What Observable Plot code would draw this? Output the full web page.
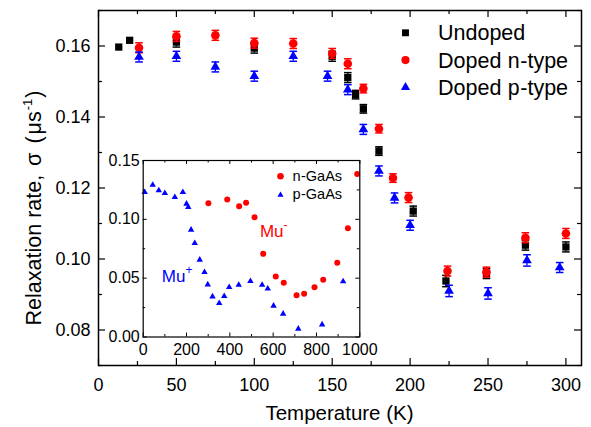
<!DOCTYPE html>
<html><head><meta charset="utf-8">
<script src="https://cdn.jsdelivr.net/npm/d3@7"></script>
<script src="https://cdn.jsdelivr.net/npm/@observablehq/plot@0.6"></script>
<style>
body{margin:0;background:#fff;}
#wrap{position:relative;width:591px;height:427px;overflow:hidden;background:#fff;}
#wrap svg{position:absolute;overflow:visible;}
</style></head><body><div id="wrap"></div>
<script>
// ---------- main chart data ----------
const undopedT     = [13, 20, 50, 100, 150, 160, 165, 170, 180, 202, 223, 249, 274, 300];
const undopedSigma = [0.1597, 0.1616, 0.1611, 0.1594, 0.1571, 0.1511, 0.1463, 0.1423, 0.1304, 0.1135, 0.0938, 0.0959, 0.1039, 0.1034];
const undopedErr   = [0, 0, 0.0014, 0.0014, 0.0014, 0.0014, 0.0012, 0.0012, 0.0012, 0.0014, 0.0016, 0.0014, 0.0014, 0.0014];

const nTypeT     = [26, 50, 75, 100, 125, 150, 160, 170, 180, 189, 199, 224, 249, 274, 300];
const nTypeSigma = [0.1595, 0.1627, 0.1630, 0.1608, 0.1607, 0.1579, 0.1550, 0.1480, 0.1367, 0.1228, 0.1173, 0.0966, 0.0963, 0.1060, 0.1072];
const nTypeErr   = [0.0014, 0.0014, 0.0014, 0.0014, 0.0014, 0.0014, 0.0014, 0.0012, 0.0012, 0.0012, 0.0014, 0.0014, 0.0014, 0.0014, 0.0014];

const pTypeT     = [26, 50, 75, 100, 125, 147, 160, 170, 180, 190, 200, 225, 250, 275, 296];
const pTypeSigma = [0.1569, 0.1571, 0.1541, 0.1515, 0.1571, 0.1515, 0.1477, 0.1365, 0.1248, 0.1172, 0.1095, 0.0910, 0.0903, 0.0996, 0.0976];
const pTypeErr   = [0.0014, 0.0014, 0.0014, 0.0014, 0.0014, 0.0014, 0.0014, 0.0014, 0.0014, 0.0014, 0.0014, 0.0016, 0.0016, 0.0016, 0.0014];

const seriesNames  = ["Undoped", "Doped n-type", "Doped p-type"];
const seriesColors = ["#000000", "#ff0000", "#0000ff"];
const seriesSymbols = ["square", "circle", "triangle"];

const xMajor = [0, 50, 100, 150, 200, 250, 300];
const xMinor = [25, 75, 125, 175, 225, 275];
const yMajor = [0.08, 0.10, 0.12, 0.14, 0.16];
const yMinor = [0.07, 0.09, 0.11, 0.13, 0.15, 0.17];

// ---------- inset data ----------
const insetN_T     = [301, 388, 443, 475, 514, 554, 612, 649, 708, 743, 791, 831, 896, 945, 988];
const insetN_Sigma = [0.1137, 0.1169, 0.1112, 0.1140, 0.1018, 0.0707, 0.0514, 0.0460, 0.0355, 0.0367, 0.0423, 0.0486, 0.0630, 0.0925, 0.1385];
const insetP_T     = [7, 44, 72, 100, 146, 183, 200, 208, 221, 238, 261, 283, 298, 320, 351, 374, 397, 441, 495, 549, 575, 602, 646, 716, 826, 923];
const insetP_Sigma = [0.1231, 0.1293, 0.1245, 0.1222, 0.1188, 0.1231, 0.1132, 0.1103, 0.0911, 0.0797, 0.0656, 0.0551, 0.0446, 0.0344, 0.0287, 0.0347, 0.0423, 0.0443, 0.0474, 0.0443, 0.0410, 0.0265, 0.0197, 0.0070, 0.0106, 0.0472];
const insetNames = ["n-GaAs", "p-GaAs"];
const insetXMajor = [0, 200, 400, 600, 800, 1000];
const insetXMinor = [100, 300, 500, 700, 900];
const insetYMajor = [0, 0.05, 0.10, 0.15];
const insetYMinor = [0.025, 0.075, 0.125];
// annotation anchors (inset data units)
const muMinusAt = [541, 0.0848];
const muPlusAt  = [88, 0.046];

const FONT = "'Liberation Sans', Arial, Helvetica, sans-serif";
const MONO = "'Liberation Mono', 'Courier New', monospace";

const rows = (T, S, E) => T.map((t, i) => ({T: t, s: S[i], e: E[i]}));
const mainData = [rows(undopedT, undopedSigma, undopedErr), rows(nTypeT, nTypeSigma, nTypeErr), rows(pTypeT, pTypeSigma, pTypeErr)];

const cap = {draw(ctx, size) { const w = Math.sqrt(size / Math.PI); ctx.moveTo(-w, 0); ctx.lineTo(w, 0); }};
const symR = {square: 4.1, circle: 4.3, triangle: 3.6};

const W = 591, H = 427, mL = 98, mR = 10, mT = 10, mB = 62;
const FW = W - mL - mR, FH = H - mT - mB;

function tickMarks(xMaj, xMin, yMaj, yMin, fw, fh, lMaj, lMin, sw) {
  const o = {stroke: "black", strokeWidth: sw};
  return [
    Plot.tickX(xMaj, {x: d => d, insetTop: fh - lMaj, ...o}),
    Plot.tickX(xMaj, {x: d => d, insetBottom: fh - lMaj, ...o}),
    Plot.tickX(xMin, {x: d => d, insetTop: fh - lMin, ...o}),
    Plot.tickX(xMin, {x: d => d, insetBottom: fh - lMin, ...o}),
    Plot.tickY(yMaj, {y: d => d, insetRight: fw - lMaj, ...o}),
    Plot.tickY(yMaj, {y: d => d, insetLeft: fw - lMaj, ...o}),
    Plot.tickY(yMin, {y: d => d, insetRight: fw - lMin, ...o}),
    Plot.tickY(yMin, {y: d => d, insetLeft: fw - lMin, ...o})
  ];
}

const seriesMarks = mainData.flatMap((data, k) => {
  const c = seriesColors[k], sym = seriesSymbols[k];
  const withErr = data.filter(d => d.e > 0);
  return [
    Plot.ruleX(withErr, {x: "T", y1: d => d.s - d.e, y2: d => d.s + d.e, stroke: c, strokeWidth: 1.3}),
    Plot.dot(withErr, {x: "T", y: d => d.s + d.e, symbol: cap, r: 3.8, stroke: c, strokeWidth: 1.5}),
    Plot.dot(withErr, {x: "T", y: d => d.s - d.e, symbol: cap, r: 3.8, stroke: c, strokeWidth: 1.5}),
    Plot.dot(data, {x: "T", y: "s", symbol: sym, r: symR[sym], fill: c, stroke: "none"})
  ];
});

const legendMarks = seriesNames.map((n, k) =>
  Plot.dot([n], {frameAnchor: "top-left", dx: 307, dy: 22.3 + k * 27.3, symbol: seriesSymbols[k], r: symR[seriesSymbols[k]] * 0.95, fill: seriesColors[k], stroke: "none"})
);

const main = Plot.plot({
  width: W, height: H,
  marginLeft: mL, marginRight: mR, marginTop: mT, marginBottom: mB,
  style: {fontFamily: FONT, fontSize: "18px", background: "transparent", color: "black"},
  x: {domain: [0, 310]},
  y: {domain: [0.07, 0.17]},
  marks: [
    ...tickMarks(xMajor, xMinor, yMajor, yMinor, FW, FH, 7, 4, 1.2),
    Plot.axisX(xMajor, {tickSize: 0, tickPadding: 13, fontSize: 18, label: null}),
    Plot.axisY(yMajor, {tickSize: 0, tickPadding: 8, fontSize: 18, label: null, tickFormat: d3.format(".2f")}),
    ...seriesMarks,
    ...legendMarks,
    Plot.frame({stroke: "black", strokeWidth: 1.5})
  ]
});
main.style.left = "0px"; main.style.top = "0px";
document.getElementById("wrap").appendChild(main);

const ms = d3.select(main);
// axis titles
ms.append("text").attr("x", mL + FW / 2).attr("y", 420).attr("text-anchor", "middle")
  .attr("font-family", FONT).attr("font-size", 20.5).attr("fill", "black").text("Temperature (K)");
const yl = ms.append("text").attr("transform", `translate(41,208) rotate(-90)`)
  .attr("text-anchor", "middle").attr("font-family", FONT).attr("font-size", 21.5).attr("fill", "black");
yl.append("tspan").text("Relaxation rate, ");
yl.append("tspan").attr("dx", 3).text("σ");
yl.append("tspan").attr("dx", 3).text(" (");
yl.append("tspan").attr("dx", 2).text("μs");
yl.append("tspan").attr("font-size", 13).attr("dy", -9).attr("dx", 1).text("-1");
yl.append("tspan").attr("dy", 9).attr("dx", 1).text(")");

// legend text
const legTxt = [["Undoped"], ["Doped ", "n", "-type"], ["Doped ", "p", "-type"]];
legTxt.forEach((parts, k) => {
  const t = ms.append("text").attr("x", 438).attr("y", 40 + k * 27.5).attr("text-anchor", "start")
    .attr("font-family", FONT).attr("font-size", 21.5).attr("fill", "black");
  parts.forEach((p, j) => t.append("tspan").attr("font-family", (j === 1) ? MONO : FONT).text(p));
});

// ---------- inset ----------
const iL = 100, iT = 150, iW = 275, iH = 205, imL = 42.7, imR = 15.7, imT = 10, imB = 18.5;
const iFW = iW - imL - imR, iFH = iH - imT - imB;
const insetN = insetN_T.map((t, i) => ({T: t, s: insetN_Sigma[i]}));
const insetP = insetP_T.map((t, i) => ({T: t, s: insetP_Sigma[i]}));
const inset = Plot.plot({
  width: iW, height: iH,
  marginLeft: imL, marginRight: imR, marginTop: imT, marginBottom: imB,
  style: {fontFamily: FONT, fontSize: "16px", background: "transparent", color: "black"},
  x: {domain: [0, 1000]},
  y: {domain: [0, 0.15]},
  marks: [
    Plot.frame({fill: "white", stroke: "none"}),
    ...tickMarks(insetXMajor, insetXMinor, insetYMajor, insetYMinor, iFW, iFH, 4, 2.5, 1),
    Plot.axisX(insetXMajor, {tickSize: 0, tickPadding: 7, fontSize: 16, label: null, tickFormat: d => String(d)}),
    Plot.axisY(insetYMajor, {tickSize: 0, tickPadding: 3.5, fontSize: 16, label: null, tickFormat: d3.format(".2f")}),
    Plot.dot(insetN, {x: "T", y: "s", symbol: "circle", r: 3, fill: seriesColors[1], stroke: "none"}),
    Plot.dot(insetP, {x: "T", y: "s", symbol: "triangle", r: 2.4, fill: seriesColors[2], stroke: "none"}),
    Plot.dot([insetNames[0]], {frameAnchor: "top-left", dx: 137.3, dy: 15.7, symbol: "circle", r: 3.3, fill: seriesColors[1], stroke: "none"}),
    Plot.dot([insetNames[1]], {frameAnchor: "top-left", dx: 137.3, dy: 34.5, symbol: "triangle", r: 2.3, fill: seriesColors[2], stroke: "none"}),
    Plot.frame({stroke: "black", strokeWidth: 1.2})
  ]
});
inset.style.left = iL + "px"; inset.style.top = iT + "px";
document.getElementById("wrap").appendChild(inset);

const is = d3.select(inset);
const ix = inset.scale("x"), iy = inset.scale("y");
insetNames.forEach((n, k) => {
  const t = is.append("text").attr("x", 292.3 - iL).attr("y", 180.5 - iT + k * 18.5).attr("text-anchor", "start")
    .attr("font-family", FONT).attr("font-size", 14.5).attr("fill", "black");
  t.append("tspan").attr("font-family", MONO).text(n[0]);
  t.append("tspan").text(n.slice(1));
});
function mu(at, sign, color) {
  const t = is.append("text").attr("x", ix.apply(at[0])).attr("y", iy.apply(at[1])).attr("text-anchor", "start")
    .attr("font-family", FONT).attr("font-size", 17).attr("fill", color);
  t.append("tspan").text("Mu");
  t.append("tspan").attr("font-size", 12).attr("dy", -8).text(sign);
}
mu(muMinusAt, "-", seriesColors[1]);
mu(muPlusAt, "+", seriesColors[2]);
</script></body></html>
